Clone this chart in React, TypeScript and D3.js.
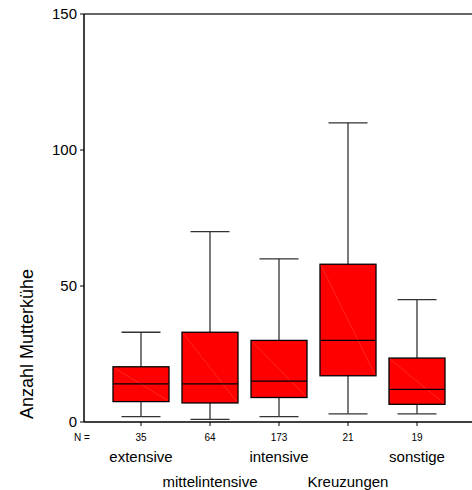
import React from "react";
import * as d3 from "d3";

const categories = ["extensive", "mittelintensive", "intensive", "Kreuzungen", "sonstige"];
const nValues = [35, 64, 173, 21, 19];
const whiskerLow = [2, 1, 2, 3, 3];
const q1 = [7.5, 7, 9, 17, 6.5];
const median = [14, 14, 15, 30, 12];
const q3 = [20.3, 33, 30, 58, 23.5];
const whiskerHigh = [33, 70, 60, 110, 45];
const yTicks = [0, 50, 100, 150];

const W = 472;
const H = 490;

export default function App() {
  const x = d3.scalePoint<string>().domain(categories).range([141, 417]);
  const y = d3.scaleLinear().domain([0, 150]).range([422, 14]);
  const boxW = 56;
  const capW = 39;
  const font = "Arial, 'Liberation Sans', sans-serif";
  const axisCol = "#333";

  return (
    <svg
      width={W}
      height={H}
      style={{ position: "absolute", left: 0, top: 0, background: "#fff" }}
      fontFamily={font}
    >
      {/* axes */}
      <line x1={84} x2={W} y1={y(150)} y2={y(150)} stroke={axisCol} strokeWidth={1.5} />
      <line x1={84} x2={84} y1={y(150)} y2={y(0)} stroke="#000" strokeWidth={1.5} />
      <line x1={84} x2={W} y1={y(0)} y2={y(0)} stroke="#000" strokeWidth={1.5} />
      {yTicks.map((t) => (
        <g key={t}>
          <line x1={80} x2={84} y1={y(t)} y2={y(t)} stroke="#000" strokeWidth={1} />
          <text x={77} y={y(t)} dy="0.35em" textAnchor="end" fontSize={15} fill="#000">
            {t}
          </text>
        </g>
      ))}
      <text
        transform={`translate(33,344) rotate(-90)`}
        textAnchor="middle"
        fontSize={18}
        fill="#000"
      >
        Anzahl Mutterkühe
      </text>

      {categories.map((c, i) => {
        const cx = x(c)!;
        const top = y(q3[i]);
        const bot = y(q1[i]);
        return (
          <g key={c}>
            <line x1={cx} x2={cx} y1={y(whiskerHigh[i])} y2={top} stroke={axisCol} strokeWidth={1.3} />
            <line x1={cx} x2={cx} y1={bot} y2={y(whiskerLow[i])} stroke={axisCol} strokeWidth={1.3} />
            <line
              x1={cx - capW / 2}
              x2={cx + capW / 2}
              y1={y(whiskerHigh[i])}
              y2={y(whiskerHigh[i])}
              stroke={axisCol}
              strokeWidth={1.3}
            />
            <line
              x1={cx - capW / 2}
              x2={cx + capW / 2}
              y1={y(whiskerLow[i])}
              y2={y(whiskerLow[i])}
              stroke={axisCol}
              strokeWidth={1.3}
            />
            <rect
              x={cx - boxW / 2}
              y={top}
              width={boxW}
              height={bot - top}
              fill="#ff0000"
              stroke="#000"
              strokeWidth={1.3}
            />
            <line
              x1={cx - boxW / 2 + 1}
              y1={top + 1}
              x2={cx + boxW / 2 - 1}
              y2={bot - 1}
              stroke="#ff6666"
              strokeWidth={0.6}
              opacity={0.6}
            />
            <line
              x1={cx - boxW / 2}
              x2={cx + boxW / 2}
              y1={y(median[i])}
              y2={y(median[i])}
              stroke="#000"
              strokeWidth={1.3}
            />
            <line x1={cx} x2={cx} y1={y(0)} y2={y(0) + 4} stroke="#000" strokeWidth={1} />
            <text x={cx} y={437} dy="0.35em" textAnchor="middle" fontSize={10} fill="#000">
              {nValues[i]}
            </text>
            <text
              x={cx}
              y={i % 2 === 0 ? 457 : 482}
              dy="0.35em"
              textAnchor="middle"
              fontSize={15}
              fill="#000"
            >
              {c}
            </text>
          </g>
        );
      })}
      <text x={82} y={437} dy="0.35em" textAnchor="middle" fontSize={10} fill="#000">
        N =
      </text>
    </svg>
  );
}
